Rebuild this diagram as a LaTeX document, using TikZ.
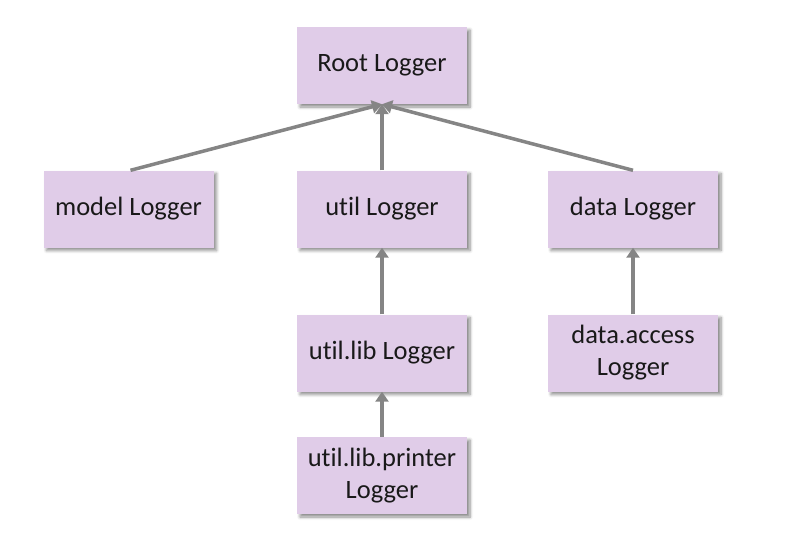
\documentclass[tikz,border=0pt]{standalone}
\usepackage{fontspec}
\setmainfont[Ligatures=NoCommon]{Carlito}
\usetikzlibrary{arrows.meta,shadows.blur}
\definecolor{boxfill}{HTML}{E0CCE8}
\definecolor{linegray}{HTML}{858585}
\tikzset{
  logbox/.style={draw=none, fill=boxfill, minimum width=170pt, minimum height=77pt,
    align=center, font=\fontsize{26.5}{32}\selectfont, text=black!90,
    blur shadow={shadow xshift=3pt, shadow yshift=-3pt, shadow blur steps=6, shadow blur radius=3pt, shadow opacity=45}},
  conn/.style={draw=linegray, line width=3.5pt, -{Triangle[length=10pt,width=13pt]}}
}
\begin{document}
\begin{tikzpicture}[x=1pt,y=-1pt]
\useasboundingbox (0,0) rectangle (799,558);
\node[logbox] (root) at (382,65.5) {Root Logger};
\node[logbox] (model) at (128.5,209) {model Logger};
\node[logbox] (util) at (382,209) {util Logger};
\node[logbox] (data) at (633,209) {data Logger};
\node[logbox] (utillib) at (382,353) {util.lib Logger};
\node[logbox] (dataacc) at (633,353) {data.access\\Logger};
\node[logbox] (printer) at (382,475.5) {util.lib.printer\\Logger};
\draw[conn] ([xshift=2pt]model.north) -- (root.south);
\draw[conn] (data.north) -- (root.south);
\draw[conn] (util.north) -- (root.south);
\draw[conn] (utillib.north) -- (util.south);
\draw[conn] (printer.north) -- (utillib.south);
\draw[conn] (dataacc.north) -- (data.south);
\end{tikzpicture}
\end{document}
